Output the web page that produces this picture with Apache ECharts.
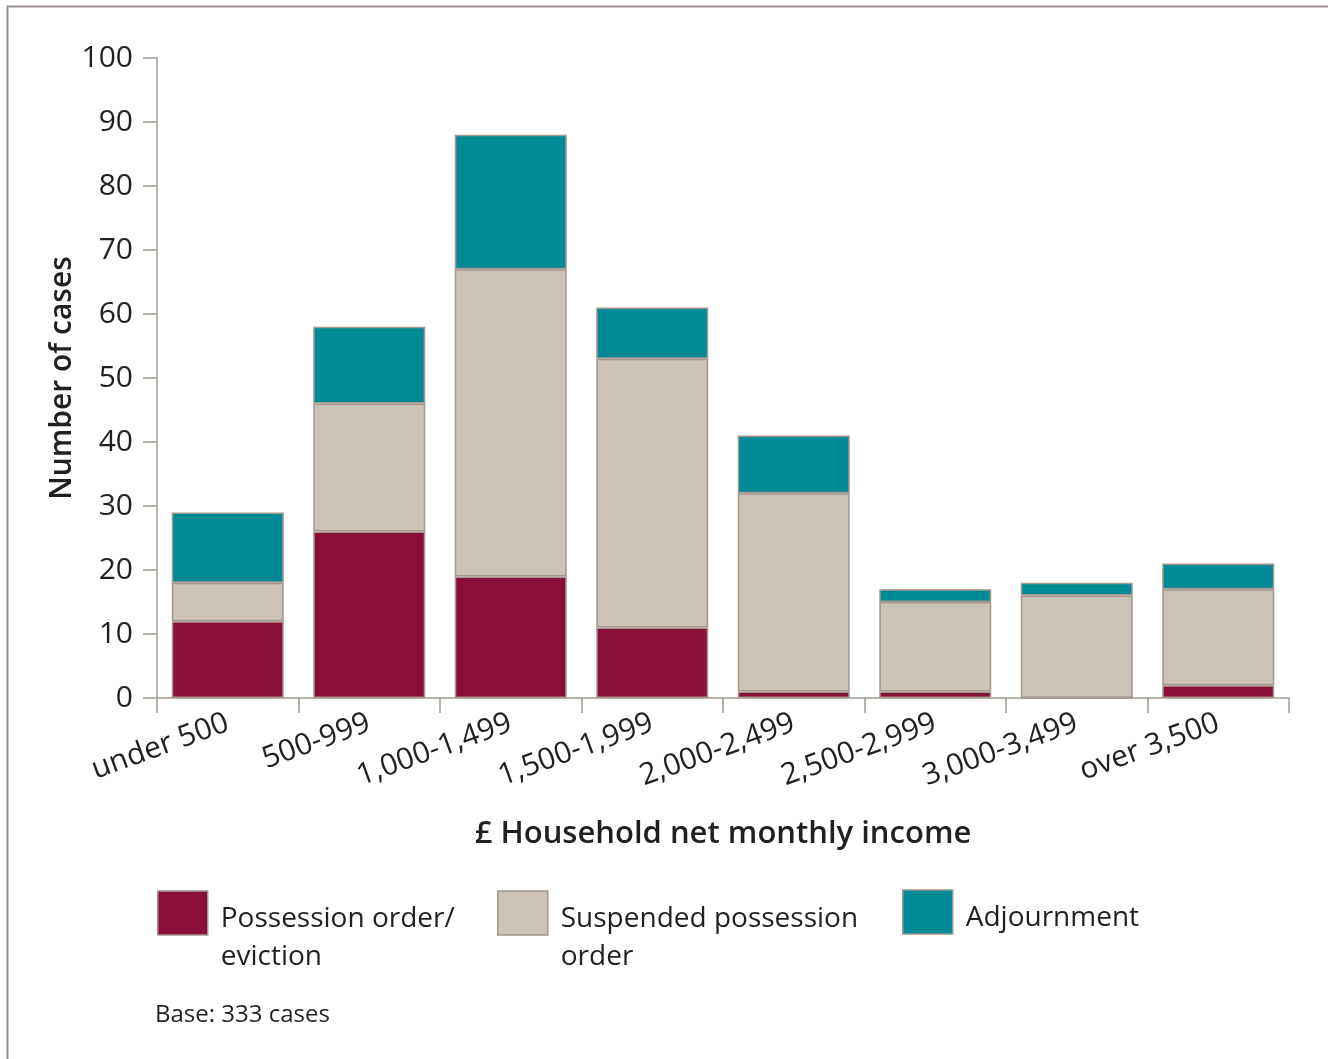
<!DOCTYPE html>
<html>
<head>
<meta charset="utf-8">
<title>Possession outcomes by household income</title>
<script src="https://cdn.jsdelivr.net/npm/echarts@6/dist/echarts.min.js"></script>
<style>
  html, body { margin: 0; padding: 0; background: #fff; }
  #chart { width: 1328px; height: 1059px; }
</style>
</head>
<body>
<div id="chart"></div>
<script>
// Income bands (£ household net monthly income)
const categories = ['under 500', '500-999', '1,000-1,499', '1,500-1,999',
                    '2,000-2,499', '2,500-2,999', '3,000-3,499', 'over 3,500'];
// Number of cases per outcome, stacked
const possession = [12, 26, 19, 11, 1, 1, 0, 2];
const suspended  = [6, 20, 48, 42, 31, 14, 16, 15];
const adjournment = [11, 12, 21, 8, 9, 2, 2, 4];
const yTicks = { min: 0, max: 100, interval: 10 };

const FONT = '"Open Sans", "Noto Sans", sans-serif';
const TEXT = '#231f20';
const AXIS = '#a39a93';
const EDGE = '#a3978c';

const colors = {
  possession: '#8a0e3a',
  suspended: '#cbc3b8',
  adjournment: '#008a96'
};

function barSeries(name, data, color) {
  return {
    name: name,
    type: 'bar',
    stack: 'total',
    data: data,
    barWidth: 112,
    itemStyle: { color: color, borderColor: EDGE, borderWidth: 1.5 },
    emphasis: { disabled: true }
  };
}

// One legend block per item so each sits at its own column.
// A blank leading spacer line drops the label slightly below the swatch centre.
function legendItem(name, left, top, spacer) {
  return {
    data: [name],
    left: left,
    top: top,
    padding: 0,
    orient: 'horizontal',
    itemWidth: 50,
    itemHeight: 44,
    itemGap: 0,
    icon: 'rect',
    selectedMode: false,
    itemStyle: { borderColor: EDGE, borderWidth: 1.5 },
    formatter: function (n) {
      return '{s| }\n' + n.split('\n').map(function (l) { return '{t|' + l + '}'; }).join('\n');
    },
    textStyle: {
      padding: [0, 0, 0, 8],
      rich: {
        s: { fontSize: 10, lineHeight: spacer },
        t: { fontFamily: FONT, fontSize: 28, color: TEXT, lineHeight: 38 }
      }
    }
  };
}

const chart = echarts.init(document.getElementById('chart'), null, { renderer: 'canvas' });
chart.setOption({
  animation: false,
  backgroundColor: '#fff',
  grid: { left: 157, right: 39, top: 58, bottom: 361, containLabel: false },
  xAxis: {
    type: 'category',
    data: categories,
    name: '£ Household net monthly income',
    nameLocation: 'middle',
    nameGap: 121,
    nameMoveOverlap: false,
    nameTextStyle: { fontFamily: FONT, fontSize: 31, fontWeight: 600, color: TEXT },
    axisLine: { lineStyle: { color: AXIS, width: 1.5 } },
    axisTick: { show: true, alignWithLabel: false, length: 15, lineStyle: { color: AXIS, width: 1.5 } },
    axisLabel: {
      rotate: 20, margin: 24, interval: 0,
      fontFamily: FONT, fontSize: 30, color: TEXT
    }
  },
  yAxis: {
    type: 'value',
    min: yTicks.min, max: yTicks.max, interval: yTicks.interval,
    name: 'Number of cases',
    nameLocation: 'middle',
    nameGap: 80,
    nameMoveOverlap: false,
    nameTextStyle: { fontFamily: FONT, fontSize: 30, fontWeight: 600, color: TEXT },
    axisLine: { show: true, lineStyle: { color: AXIS, width: 1.5 } },
    axisTick: { show: true, length: 14, lineStyle: { color: AXIS, width: 1.5 } },
    splitLine: { show: false },
    axisLabel: { margin: 24, fontFamily: FONT, fontSize: 30, color: TEXT }
  },
  legend: [
    legendItem('Possession order/\neviction', 157, 870, 50),
    legendItem('Suspended possession\norder', 497, 870, 50),
    legendItem('Adjournment', 902, 888, 12)
  ],
  series: [
    barSeries('Possession order/\neviction', possession, colors.possession),
    barSeries('Suspended possession\norder', suspended, colors.suspended),
    barSeries('Adjournment', adjournment, colors.adjournment)
  ],
  graphic: [
    {
      type: 'polyline',
      shape: { points: [[7.5, 1100], [7.5, 6.5], [1340, 6.5]] },
      style: { stroke: '#9a8f8b', lineWidth: 2, fill: null },
      silent: true
    },
    {
      type: 'text',
      left: 155, top: 1003,
      style: { text: 'Base: 333 cases', font: '24px ' + FONT, fill: TEXT },
      silent: true
    }
  ]
});
</script>
</body>
</html>
